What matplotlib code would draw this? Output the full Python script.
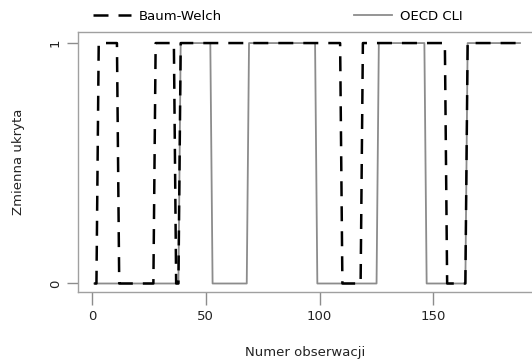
import numpy as np
import matplotlib
matplotlib.use("Agg")
import matplotlib.pyplot as plt

# hidden-state paths, stored as runs: (state, run length), observations 1..188
bw_states = [0, 1, 0, 1, 0, 1, 0, 1, 0, 1]
bw_runs = [2, 9, 16, 9, 2, 71, 9, 37, 9, 24]
cli_states = [0, 1, 0, 1, 0, 1, 0, 1]
cli_runs = [38, 14, 16, 30, 27, 21, 18, 24]

xticks = [0, 50, 100, 150]
yticks = [0, 1]

bw = np.repeat(bw_states, bw_runs)
cli = np.repeat(cli_states, cli_runs)
obs = np.arange(1, len(bw) + 1)

W, H = 532, 360
fig = plt.figure(figsize=(W / 100, H / 100), dpi=100)
ax = fig.add_axes([78 / W, (H - 292.3) / H, (533 - 78) / W, (292.3 - 32) / H])

GRAY = "#8c8c8c"
ax.plot(obs, cli, color=GRAY, lw=1.3, zorder=2, label="OECD CLI")
ax.plot(obs, bw, color="black", lw=1.8, dashes=(6, 4), zorder=3, label="Baum-Welch")

ax.set_xlim(-6.1, 193.7)
ax.set_ylim(-0.0366, 1.046)
ax.set_xticks(xticks)
ax.set_yticks(yticks)
ax.tick_params(axis="x", length=9, width=1, color=GRAY, pad=3.5, labelsize=9.5,
               labelcolor="#222222")
ax.tick_params(axis="y", length=8, width=1, color=GRAY, pad=3.5, labelsize=9.5,
               labelrotation=90, labelcolor="#222222")
for lab in ax.get_yticklabels():
    lab.set_va("center")
for s in ax.spines.values():
    s.set_color("#a0a0a0")
    s.set_linewidth(1.0)
ax.spines["right"].set_visible(False)

ax.set_xlabel("Numer obserwacji", fontsize=9.5, labelpad=17, color="#222222")
ax.set_ylabel("Zmienna ukryta", fontsize=9.5, labelpad=17, color="#222222")

h, l = ax.get_legend_handles_labels()
fig.legend(h[::-1], l[::-1], ncol=2, loc="center", bbox_to_anchor=(278 / W, 1 - 16 / H),
           frameon=False, fontsize=9.5, handlelength=2.9, handletextpad=0.6,
           columnspacing=10)

fig.savefig("out.png", dpi=100)
